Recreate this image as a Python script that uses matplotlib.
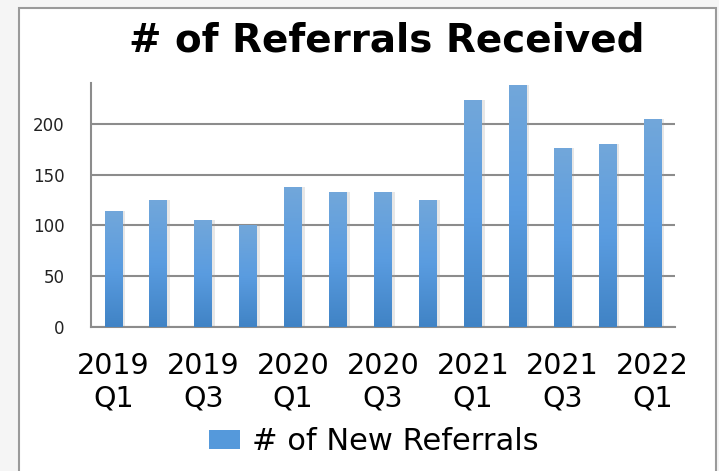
import numpy as np
import matplotlib.pyplot as plt
from matplotlib.colors import LinearSegmentedColormap
from matplotlib.patches import Rectangle, Patch

quarters = ["2019\nQ1", "2019\nQ2", "2019\nQ3", "2019\nQ4",
            "2020\nQ1", "2020\nQ2", "2020\nQ3", "2020\nQ4",
            "2021\nQ1", "2021\nQ2", "2021\nQ3", "2021\nQ4",
            "2022\nQ1"]
new_referrals = [114, 125, 105, 100, 138, 133, 133, 125, 223, 238, 176, 180, 205]
y_ticks = [0, 50, 100, 150, 200]

fig = plt.figure(figsize=(7.19, 4.71), dpi=100, facecolor='#f5f5f5')

# white chart area with grey frame (behind the axes)
frame = Rectangle((19 / 719, -0.01), 697 / 719, 1 - 8 / 471 + 0.01,
                  transform=fig.transFigure, facecolor='white',
                  edgecolor='#9a9a9a', linewidth=1.5, zorder=-10)
fig.patches.append(frame)

ax = fig.add_axes([0.1266, 0.3057, 0.8122, 0.518])
ax.set_facecolor('none')

x = np.arange(len(quarters))
w = 0.4

# soft shadow behind each bar
ax.bar(x + 0.03, new_referrals, w + 0.06, color='#a0a0a0', alpha=0.25, zorder=2)
bars = ax.bar(x, new_referrals, w, color='#5599db', zorder=3,
              label='# of New Referrals')

# vertical gradient inside each bar
grad = LinearSegmentedColormap.from_list('g', ['#4083c5', '#5a9ce0', '#72a7da'])
img = np.linspace(0, 1, 256).reshape(-1, 1)
for b in bars:
    x0, h = b.get_x(), b.get_height()
    im = ax.imshow(img, cmap=grad, origin='lower', aspect='auto',
                   extent=(x0, x0 + b.get_width(), 0, h), zorder=4)
    im.set_clip_path(b)

ax.set_xlim(-0.5, len(quarters) - 0.5)
ax.set_ylim(0, 240)
ax.set_yticks(y_ticks)
ax.yaxis.grid(True, color='#8c8c8c', linewidth=1.5, zorder=1)
ax.set_axisbelow(True)

ax.set_xticks(x[::2])
ax.set_xticklabels(quarters[::2], fontsize=20.5, family='DejaVu Sans', linespacing=1.2)
ax.tick_params(axis='y', length=0, pad=19, labelsize=12, labelcolor='#222222')
ax.tick_params(axis='x', length=0, pad=18)

for s in ['top', 'right']:
    ax.spines[s].set_visible(False)
ax.spines['left'].set_color('#8c8c8c')
ax.spines['left'].set_linewidth(1.5)
ax.spines['bottom'].set_color('#8c8c8c')
ax.spines['bottom'].set_linewidth(1.5)

fig.text(0.538, 0.913, '# of Referrals Received', ha='center', va='center',
         fontsize=28, fontweight='bold', family='DejaVu Sans')

fig.legend(handles=[Patch(facecolor='#5599db', label='# of New Referrals')],
           loc='center', bbox_to_anchor=(0.52, 0.062), frameon=False,
           handlelength=1.0, handleheight=0.6, handletextpad=0.4,
           prop={'family': 'DejaVu Sans', 'size': 22})

plt.savefig('out.png', dpi=100, facecolor=fig.get_facecolor())
